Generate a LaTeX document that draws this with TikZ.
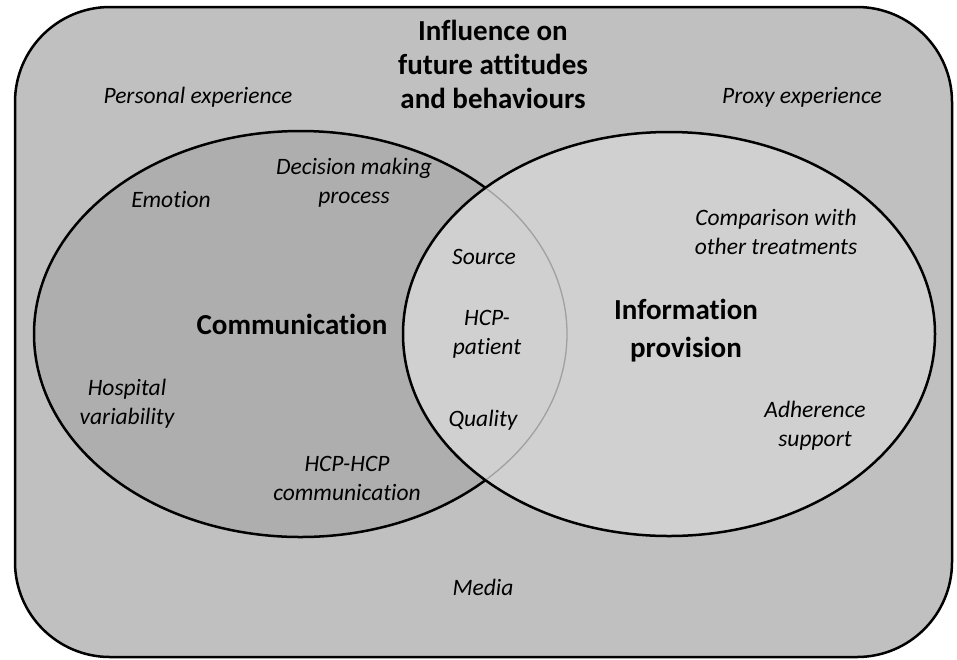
\documentclass[tikz,border=0pt]{standalone}
\usepackage{fontspec}
\setmainfont[Ligatures=NoCommon]{Carlito}
\definecolor{outerc}{RGB}{192,192,192}
\definecolor{leftc}{RGB}{174,174,174}
\definecolor{rightc}{RGB}{208,208,208}
\definecolor{seamc}{RGB}{160,160,160}
\begin{document}
\begin{tikzpicture}[x=1pt,y=-1pt,
  lbl/.style={font=\fontsize{23.5}{29}\selectfont\itshape, align=center, inner sep=0pt},
  ttl/.style={font=\fontsize{29}{34}\selectfont\bfseries, align=center, inner sep=0pt},
  hd/.style={font=\fontsize{29}{38}\selectfont\bfseries, align=center, inner sep=0pt},
  edge/.style={line width=2.5pt, draw=black}]
\useasboundingbox (0,0) rectangle (957,659);
% outer frame
\path[edge, fill=outerc, rounded corners=95pt] (15,7) rectangle (952,657);
% circles
\path[edge, fill=leftc] (300.5,334) ellipse [x radius=266.5, y radius=203];
\path[edge, fill=rightc] (669,334) ellipse [x radius=266, y radius=202];
\begin{scope}
  \clip (669,334) ellipse [x radius=264.5, y radius=200.5];
  \draw[line width=1.3pt, seamc] (300.5,334) ellipse [x radius=266.5, y radius=203];
\end{scope}
% texts
\node[ttl] (title) at (493,64) {Influence on\\future attitudes\\and behaviours};
\node[lbl] (pers) at (198,97) {Personal experience};
\node[lbl] (proxy) at (802,97) {Proxy experience};
\node[lbl] (emo) at (171,199) {Emotion};
\node[lbl] (dec) at (354,183) {Decision making\\process};
\node[lbl] (src) at (484,257) {Source};
\node[lbl] (hcp) at (487,334) {HCP-\\patient};
\node[lbl] (qual) at (483,420) {Quality};
\node[hd] (comm) at (292,324) {Communication};
\node[hd] (info) at (686,331) {Information\\provision};
\node[lbl] (comp) at (776,232) {Comparison with\\other treatments};
\node[lbl] (hosp) at (127,404) {Hospital\\variability};
\node[lbl] (adh) at (815,426) {Adherence\\support};
\node[lbl] (hh) at (347,478) {HCP-HCP\\communication};
\node[lbl] (media) at (483,587) {Media};
\end{tikzpicture}
\end{document}
